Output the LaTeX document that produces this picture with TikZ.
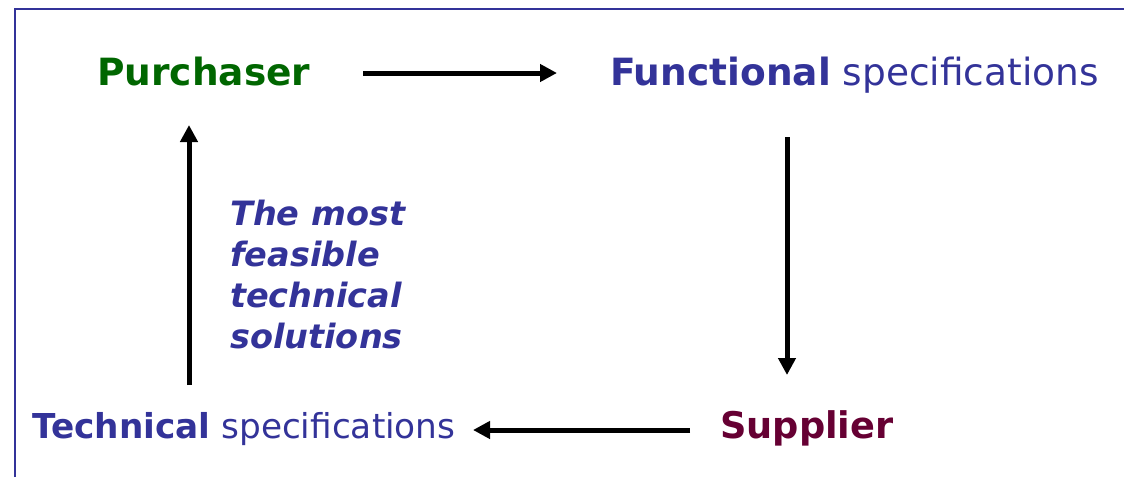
\documentclass[tikz,border=0pt]{standalone}
\usepackage{fontspec}
\setmainfont{DejaVu Sans}
\usetikzlibrary{arrows.meta}
\definecolor{navy}{HTML}{333399}
\definecolor{leaf}{HTML}{006600}
\definecolor{wine}{HTML}{660033}
\begin{document}
\begin{tikzpicture}[x=1pt,y=-1pt,
  lbl/.style={anchor=base west,inner sep=0pt},
  big/.style={font=\fontsize{37.5}{44}\selectfont},
  flow/.style={line width=5pt,-{Triangle[length=17pt,width=17pt]}},
  frame/.style={draw=navy,line width=1.5pt}]
\useasboundingbox (0,0) rectangle (1124,477);
\draw[frame] (15,477) -- (15,9) -- (1124,9);
\node[lbl,big,text=leaf] (purch) at (97,85) {\textbf{Purchaser}};
\node[lbl,big,text=navy] (func) at (610,85) {\textbf{Functional} specifications};
\node[lbl,text=navy,font=\fontsize{34.3}{40}\selectfont] (tech) at (32,438) {\textbf{Technical} specifications};
\node[lbl,text=wine,font=\fontsize{36.7}{44}\selectfont] (supp) at (720,438) {\textbf{Supplier}};
\node[anchor=base west,inner sep=0pt,text=navy,align=left,
  font=\fontsize{33.5}{40.8}\selectfont\bfseries\itshape] (sol) at (230,348)
  {The most\\feasible\\technical\\solutions};
% connector end points next to the named nodes
\coordinate (h1) at (363,73);
\coordinate (h2) at (557,73);
\coordinate (d1) at (787,137);
\coordinate (d2) at (787,375);
\coordinate (b1) at (690,430);
\coordinate (b2) at (473,430);
\coordinate (u1) at (189,385);
\coordinate (u2) at (189,125);
\draw[flow] (h1) -- (h2);
\draw[flow] (d1) -- (d2);
\draw[flow] (b1) -- (b2);
\draw[flow] (u1) -- (u2);
\end{tikzpicture}
\end{document}
